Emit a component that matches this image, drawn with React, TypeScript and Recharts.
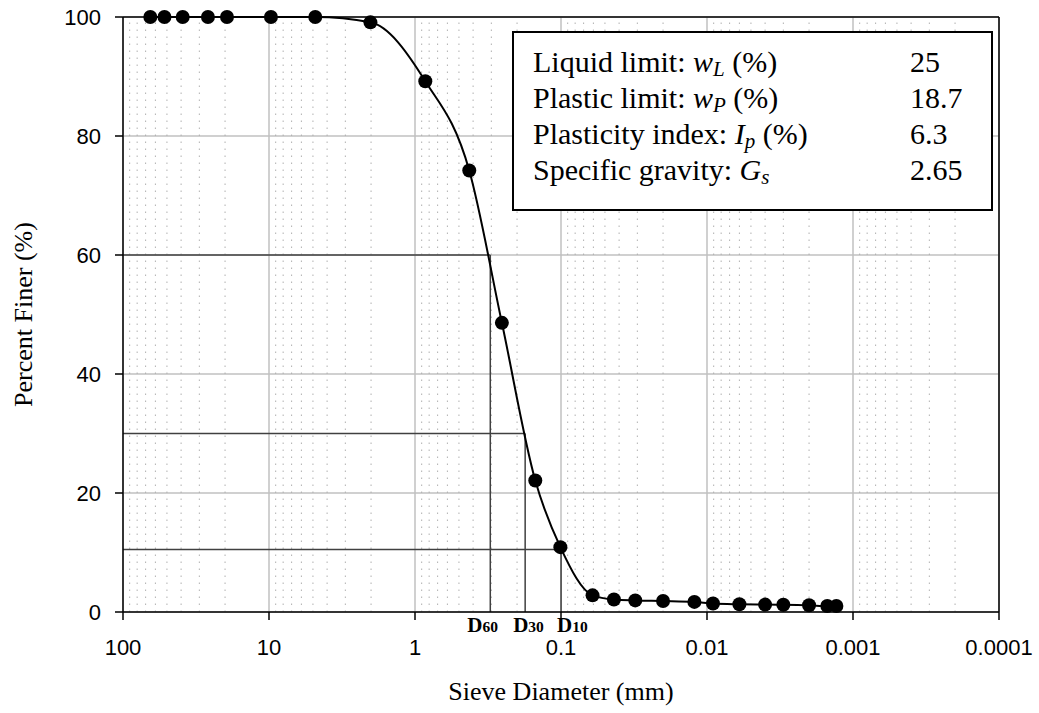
import {
  ComposedChart,
  Line,
  XAxis,
  YAxis,
  CartesianGrid,
  ReferenceLine,
} from "recharts"

// grain size distribution (mm / % finer)
const sieveSizes = [
  65, 52, 39, 26.2, 19.4, 9.7, 4.82, 2.02, 0.85, 0.425, 0.254, 0.15, 0.101,
  0.0608, 0.0434, 0.031, 0.02, 0.0122, 0.0091, 0.006, 0.004, 0.003, 0.002,
  0.0015, 0.0013,
]
const percentFiner = [
  100, 100, 100, 100, 100, 100, 100, 99.1, 89.2, 74.2, 48.6, 22.1, 10.9,
  2.8, 2.1, 1.95, 1.85, 1.7, 1.42, 1.3, 1.24, 1.22, 1.13, 1.0, 1.0,
]

const xTicks = [100, 10, 1, 0.1, 0.01, 0.001, 0.0001]
const yTicks = [0, 20, 40, 60, 80, 100]

// minor (dotted) gridlines: 2..9 inside every decade
const decades = [0.0001, 0.001, 0.01, 0.1, 1, 10]
const minorSteps = [2, 3, 4, 5, 6, 7, 8, 9]

// D60 / D30 / D10 construction lines
const dNames = ["60", "30", "10"]
const dSizes = [0.305, 0.176, 0.0999]
const dPercents = [60, 30, 10.5]
const dLabelShift = [-23, -12, -4]

// soil properties box
const propLabels = ["Liquid limit: ", "Plastic limit: ", "Plasticity index: ", "Specific gravity: "]
const propSymbols = ["w", "w", "I", "G"]
const propSubs = ["L", "P", "p", "s"]
const propTails = [" (%)", " (%)", " (%)", ""]
const propValues = ["25", "18.7", "6.3", "2.65"]

const data = sieveSizes.map((size, i) => ({ size, finer: percentFiner[i] }))
const minorLines = decades.flatMap((d) => minorSteps.map((k) => +(k * d).toPrecision(3)))

const SERIF = '"Liberation Serif", "Times New Roman", serif'
const SANS = '"Liberation Sans", Arial, sans-serif'

function DLabel({ viewBox, name, shift }: any) {
  if (!viewBox) return null
  const x = viewBox.x + shift
  const y = viewBox.y + viewBox.height + 19.8
  return (
    <text x={x} y={y} fontFamily={SERIF} fontWeight="bold" fill="#000">
      <tspan fontSize={21}>D</tspan>
      <tspan fontSize={15.5}>{name}</tspan>
    </text>
  )
}

export default function App() {
  return (
    <div style={{ position: "absolute", left: 0, top: 0, width: 1039, height: 713, background: "#fff" }}>
      <ComposedChart
        width={1039}
        height={713}
        data={data}
        margin={{ top: 17, right: 40, bottom: 0, left: 0 }}
      >
        <CartesianGrid stroke="#c0c0c0" strokeWidth={1.5} />
        {minorLines.map((v) => (
          <ReferenceLine key={"m" + v} x={v} stroke="#b0b0b0" strokeWidth={1} strokeDasharray="1.5 5.5" />
        ))}
        <XAxis
          dataKey="size"
          type="number"
          scale="log"
          domain={[0.0001, 100]}
          reversed
          allowDataOverflow
          ticks={xTicks}
          tickFormatter={(v) => String(v)}
          height={101}
          tickSize={8}
          tickMargin={19}
          axisLine={{ stroke: "#000", strokeWidth: 1.5 }}
          tickLine={{ stroke: "#000", strokeWidth: 1.5 }}
          tick={{ fill: "#000", fontSize: 22, fontFamily: SANS }}
          label={(p: any) => (
            <text
              x={p.viewBox.x + p.viewBox.width / 2}
              y={p.viewBox.y + 87.5}
              textAnchor="middle"
              fontFamily={SERIF}
              fontSize={26}
              fill="#000"
            >
              Sieve Diameter (mm)
            </text>
          )}
        />
        <YAxis
          type="number"
          domain={[0, 100]}
          ticks={yTicks}
          width={123}
          tickSize={8}
          tickMargin={14}
          axisLine={{ stroke: "#000", strokeWidth: 1.5 }}
          tickLine={{ stroke: "#000", strokeWidth: 1.5 }}
          tick={{ fill: "#000", fontSize: 22, fontFamily: SANS }}
          label={(p: any) => {
            const cx = p.viewBox.x + 23
            const cy = p.viewBox.y + p.viewBox.height / 2
            return (
              <text
                x={cx}
                y={cy}
                transform={`rotate(-90, ${cx}, ${cy})`}
                textAnchor="middle"
                dominantBaseline="central"
                fontFamily={SERIF}
                fontSize={26}
                fill="#000"
              >
                Percent Finer (%)
              </text>
            )
          }}
        />
        {/* plot frame, top and right */}
        <ReferenceLine y={100} stroke="#000" strokeWidth={1.5} />
        <ReferenceLine x={0.0001} stroke="#000" strokeWidth={1.5} />
        {dSizes.map((s, i) => (
          <ReferenceLine
            key={"dh" + i}
            segment={[{ x: 100, y: dPercents[i] }, { x: s, y: dPercents[i] }]}
            stroke="#404040"
            strokeWidth={1.5}
          />
        ))}
        {dSizes.map((s, i) => (
          <ReferenceLine
            key={"dv" + i}
            segment={[{ x: s, y: dPercents[i] }, { x: s, y: 0 }]}
            stroke="#404040"
            strokeWidth={1.5}
            label={(p: any) => <DLabel viewBox={p.viewBox} name={dNames[i]} shift={dLabelShift[i]} />}
          />
        ))}
        <Line
          dataKey="finer"
          type="monotone"
          stroke="#000"
          strokeWidth={2}
          dot={{ r: 7, fill: "#000", stroke: "#000", strokeWidth: 0 }}
          activeDot={false}
          isAnimationActive={false}
        />
      </ComposedChart>

      <div
        style={{
          position: "absolute",
          left: 512,
          top: 31,
          width: 481,
          height: 180,
          boxSizing: "border-box",
          border: "2px solid #000",
          background: "#fff",
          fontFamily: SERIF,
          fontSize: 30,
          color: "#000",
        }}
      >
        {propLabels.map((label, i) => (
          <div
            key={label}
            style={{ position: "absolute", left: 0, top: 10.6 + i * 36, width: "100%", lineHeight: "36px", whiteSpace: "nowrap" }}
          >
            <span style={{ position: "absolute", left: 19 }}>
              {label}
              <i>{propSymbols[i]}</i>
              <i style={{ fontSize: 21, position: "relative", top: 4 }}>{propSubs[i]}</i>
              {propTails[i]}
            </span>
            <span style={{ position: "absolute", left: 396 }}>{propValues[i]}</span>
          </div>
        ))}
      </div>
    </div>
  )
}
